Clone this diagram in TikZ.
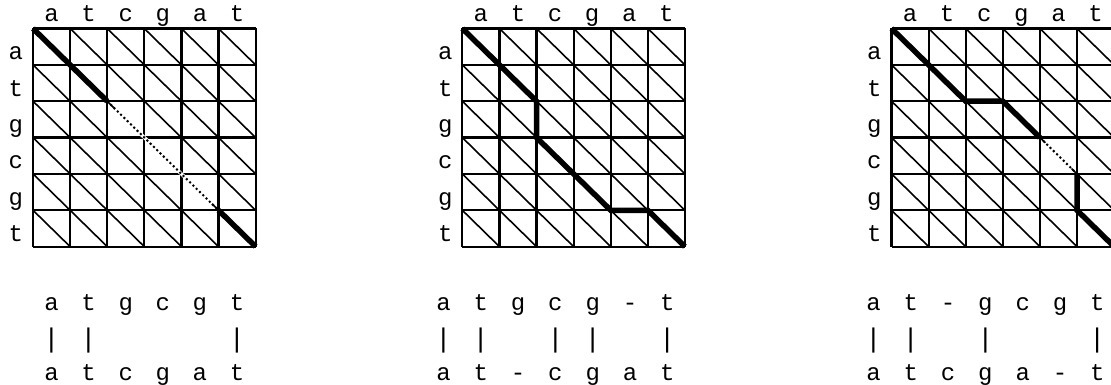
\documentclass[tikz,border=0pt]{standalone}
\usepackage{fontspec}
\usetikzlibrary{calc}
\newfontfamily\monofam{Liberation Mono}
\tikzset{
  gridline/.style={line width=2.2pt, black},
  diagline/.style={line width=1.6pt, black},
  pathline/.style={line width=5.5pt, black},
  dotline/.style={line width=2pt, black, dash pattern=on 2pt off 2.6pt},
  eraseline/.style={line width=3.5pt, white},
  lbl/.style={inner sep=0pt, anchor=base, font=\monofam\fontsize{24}{27}\selectfont},
  barlbl/.style={inner sep=0pt, anchor=base, font=\monofam\fontsize{27}{30}\selectfont},
}
\begin{document}
\begin{tikzpicture}[x=1pt,y=-1pt]
\useasboundingbox (0,0) rectangle (1111,385);
\clip (0,0) rectangle (1111,385);
% three grids
\foreach \ox/\g in {33/A,462.3/B,891.5/C}{
  \begin{scope}[shift={(\ox,28.5)}, x=37.1pt, y=-36.35pt]
    \foreach \i in {0,...,5}{
      \foreach \j in {0,...,5}{
        \draw[diagline] (\i,\j) -- (\i+1,\j+1);
      }
    }
    \foreach \k in {0,...,6}{
      \draw[gridline] (\k,0) -- (\k,6);
      \draw[gridline] (0,\k) -- (6,\k);
    }
    \foreach \c [count=\k from 0] in {a,t,c,g,a,t}{
      \node[lbl] (col\g\k) at (\k+0.5,-0.18) {\c};
    }
    \foreach \c [count=\k from 0] in {a,t,g,c,g,t}{
      \node[lbl] (row\g\k) at (-0.46,\k+0.86) {\c};
    }
  \end{scope}
}
% alignment paths
\begin{scope}[shift={(33,28.5)}, x=37.1pt, y=-36.35pt]
  \draw[pathline] (0,0) -- (2,2);
  \draw[eraseline] ($(2,2)!0.06!(5,5)$) -- ($(2,2)!0.94!(5,5)$);
  \draw[dotline] (2,2) -- (5,5);
  \draw[pathline] (5,5) -- (6,6);
\end{scope}
\begin{scope}[shift={(462.3,28.5)}, x=37.1pt, y=-36.35pt]
  \draw[pathline] (0,0) -- (2,2) -- (2,3) -- (4,5) -- (5,5) -- (6,6);
\end{scope}
\begin{scope}[shift={(891.5,28.5)}, x=37.1pt, y=-36.35pt]
  \draw[pathline] (0,0) -- (2,2) -- (3,2) -- (4,3);
  \draw[eraseline] ($(4,3)!0.15!(5,4)$) -- ($(4,3)!0.85!(5,4)$);
  \draw[dotline] (4,3) -- (5,4);
  \draw[pathline] (5,4) -- (5,5) -- (6,6);
\end{scope}
% alignments text
\foreach \t [count=\k from 0] in {a,t,g,c,g,t}{
  \node[lbl] (ta\k) at (51.5+37.1*\k,310) {\t};
}
\foreach \t [count=\k from 0] in {a,t,c,g,a,t}{
  \node[lbl] (ba\k) at (51.5+37.1*\k,380) {\t};
}
\foreach \k in {0,1,5}{
  \node[barlbl] (ma\k) at (51.5+37.1*\k,347) {|};
}
\foreach \t [count=\k from 0] in {a,t,g,c,g,-,t}{
  \node[lbl] (tb\k) at (443.5+37.3*\k,310) {\t};
}
\foreach \t [count=\k from 0] in {a,t,-,c,g,a,t}{
  \node[lbl] (bb\k) at (443.5+37.3*\k,380) {\t};
}
\foreach \k in {0,1,3,4,6}{
  \node[barlbl] (mb\k) at (443.5+37.3*\k,347) {|};
}
\foreach \t [count=\k from 0] in {a,t,-,g,c,g,t}{
  \node[lbl] (tc\k) at (873.5+37.3*\k,310) {\t};
}
\foreach \t [count=\k from 0] in {a,t,c,g,a,-,t}{
  \node[lbl] (bc\k) at (873.5+37.3*\k,380) {\t};
}
\foreach \k in {0,1,3,6}{
  \node[barlbl] (mc\k) at (873.5+37.3*\k,347) {|};
}
\end{tikzpicture}
\end{document}
